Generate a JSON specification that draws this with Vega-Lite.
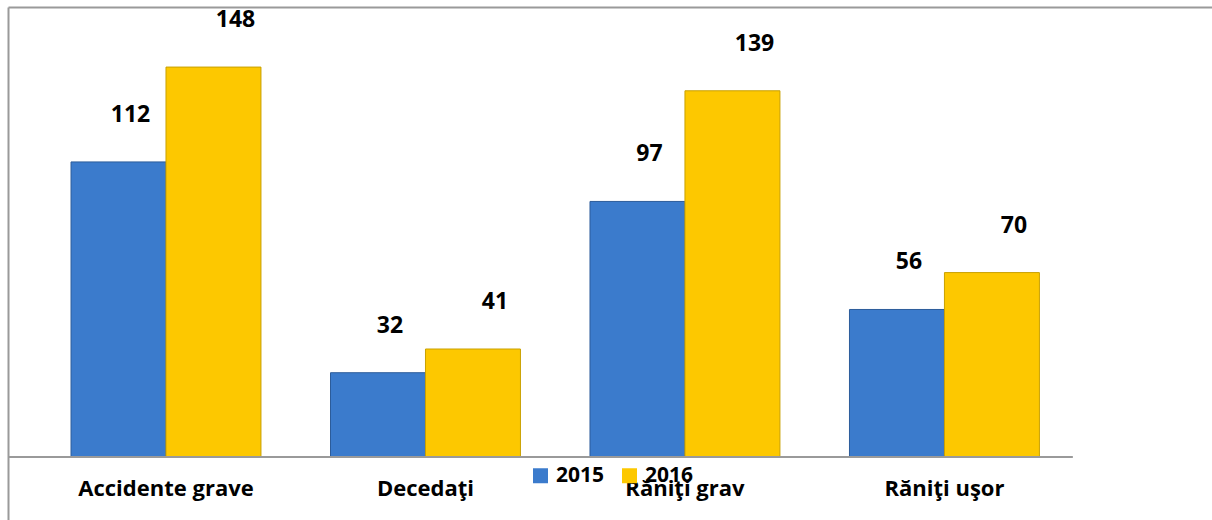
{
  "$schema": "https://vega.github.io/schema/vega-lite/v6.json",
  "width": 1204,
  "height": 513,
  "padding": {"left": 8, "top": 7, "right": 0, "bottom": 0},
  "autosize": {"type": "none"},
  "background": "white",
  "config": {"view": {"stroke": null}, "font": "Open Sans"},
  "data": {
    "values": [
      {"cat": "Accidente grave", "year": "2015", "value": 112},
      {"cat": "Accidente grave", "year": "2016", "value": 148},
      {"cat": "Decedaţi", "year": "2015", "value": 32},
      {"cat": "Decedaţi", "year": "2016", "value": 41},
      {"cat": "Răniţi grav", "year": "2015", "value": 97},
      {"cat": "Răniţi grav", "year": "2016", "value": 139},
      {"cat": "Răniţi uşor", "year": "2015", "value": 56},
      {"cat": "Răniţi uşor", "year": "2016", "value": 70}
    ]
  },
  "encoding": {
    "x": {
      "field": "cat", "type": "nominal", "sort": null,
      "scale": {"paddingInner": 0.268, "paddingOuter": 0.454, "align": 0.2675, "round": false}
    },
    "xOffset": {"field": "year", "type": "nominal", "scale": {"domain": ["2015", "2016"], "paddingInner": 0, "paddingOuter": 0}},
    "y": {
      "field": "value", "type": "quantitative",
      "scale": {"domain": [-23.9, 170.8], "nice": false, "zero": false},
      "axis": {"orient": "left", "labels": false, "ticks": false, "grid": false, "title": null, "domainColor": "#9a9a9a", "domainWidth": 2}
    }
  },
  "layer": [
    {
      "mark": {"type": "bar", "strokeWidth": 1},
      "encoding": {
        "x": {
          "field": "cat", "type": "nominal", "sort": null,
          "axis": {"orient": "top", "labels": false, "ticks": false, "title": null, "domainColor": "#9a9a9a", "domainWidth": 2}
        },
        "y2": {"datum": 0},
        "color": {
          "field": "year", "type": "nominal",
          "scale": {"domain": ["2015", "2016"], "range": ["#3b7bcc", "#fdc800"]},
          "legend": {
            "orient": "none", "legendX": 522, "legendY": 458, "direction": "horizontal",
            "title": null, "symbolType": "square", "symbolSize": 225, "symbolStrokeWidth": 0,
            "labelFont": "Open Sans", "labelFontWeight": "bold", "labelFontSize": 21, "labelColor": "#000000",
            "labelOffset": 5, "columnPadding": 14
          }
        },
        "stroke": {
          "field": "year", "type": "nominal",
          "scale": {"domain": ["2015", "2016"], "range": ["#2c5c9a", "#c9a000"]},
          "legend": null
        }
      }
    },
    {
      "transform": [{"filter": "datum.year == '2015'"}],
      "mark": {"type": "text", "font": "Open Sans", "fontWeight": "bold", "fontSize": 23, "color": "#000000", "baseline": "middle", "dx": 12, "dy": -47},
      "encoding": {
        "x": {
          "field": "cat", "type": "nominal", "sort": null,
          "axis": {"orient": "bottom", "offset": -63, "domain": false, "ticks": false, "title": null, "labelPadding": 21, "labelAngle": 0,
            "labelFont": "Open Sans", "labelFontWeight": "bold", "labelFontSize": 22, "labelColor": "#000000"}
        },
        "text": {"field": "value", "type": "quantitative"}
      }
    },
    {
      "transform": [{"filter": "datum.year == '2016'"}],
      "mark": {"type": "text", "font": "Open Sans", "fontWeight": "bold", "fontSize": 23, "color": "#000000", "baseline": "middle", "dx": 22, "dy": -47},
      "encoding": {
        "x": {"field": "cat", "type": "nominal", "sort": null, "axis": null},
        "text": {"field": "value", "type": "quantitative"}
      }
    },
    {
      "data": {"values": [{"base": 0}]},
      "mark": {"type": "rule", "color": "#9a9a9a", "strokeWidth": 2},
      "encoding": {
        "xOffset": null,
        "x": {"datum": "Accidente grave", "bandPosition": -0.33, "axis": null},
        "x2": {"datum": "Răniţi uşor", "bandPosition": 1.176},
        "y": {"field": "base", "type": "quantitative"}
      }
    }
  ]
}
